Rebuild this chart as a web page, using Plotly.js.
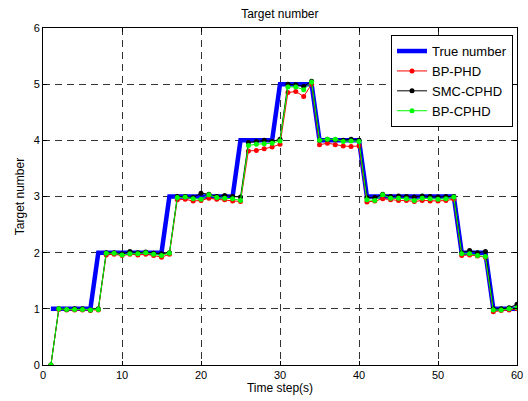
<!DOCTYPE html>
<html>
<head>
<meta charset="utf-8">
<script src="https://cdn.plot.ly/plotly-3.0.1.min.js"></script>
<style>html,body{margin:0;padding:0;background:#fff;}#chart{width:528px;height:401px;}</style>
</head>
<body>
<div id="chart"></div>
<script>
const timeSteps = Array.from({length: 60}, (_, i) => i + 1);
const trueNumber = [1,1,1,1,1,1, 2,2,2,2,2,2,2,2,2, 3,3,3,3,3,3,3,3,3, 4,4,4,4,4, 5,5,5,5,5, 4,4,4,4,4,4, 3,3,3,3,3,3,3,3,3,3,3,3, 2,2,2,2, 1,1,1,1];
const bpPhd = [0, 0.99,0.98,0.98,0.98,0.97,0.98, 1.96,1.97,1.95,1.97,1.96,1.97,1.95,1.92,1.97, 2.94,2.95,2.92,2.93,2.97,2.95,2.94,2.92,2.91, 3.81,3.82,3.85,3.88,3.93, 4.85,4.87,4.78,5.0, 3.92,3.95,3.92,3.9,3.89,3.9, 2.9,2.92,2.96,2.94,2.93,2.93,2.91,2.93,2.92,2.92,2.93,2.95, 1.95,1.96,1.94,1.92, 0.95,0.97,0.98,1.0];
const smcCphd = [0, 1.0,0.99,1.0,1.0,0.98,1.0, 2.0,2.0,1.98,2.02,2.0,2.01,1.99,1.98,2.0, 3.0,3.0,2.98,3.06,3.04,3.0,3.02,3.0,2.99, 3.96,3.98,4.0,3.98,4.02, 5.0,4.99,4.96,5.05, 4.0,4.02,4.01,4.0,4.02,4.0, 2.98,2.98,3.04,3.0,3.01,3.0,2.99,3.01,3.0,2.99,3.0,3.0, 2.0,2.04,2.0,2.02, 1.0,1.0,1.02,1.08];
const bpCphd = [0, 1.0,0.99,0.99,0.99,0.98,0.99, 1.99,1.99,1.96,1.98,1.98,2.0,1.97,1.95,1.99, 2.98,2.99,2.96,2.95,3.03,2.98,2.97,2.96,2.93, 3.91,3.93,3.94,3.95,3.99, 4.95,4.95,4.9,5.04, 4.0,4.02,4.02,3.98,3.99,3.98, 2.94,2.93,3.03,2.97,2.97,2.96,2.93,2.97,2.96,2.95,2.96,2.99, 1.98,1.98,1.95,1.93, 0.98,0.98,1.0,1.02];
const xTicks = [0,10,20,30,40,50,60];
const yTicks = [0,1,2,3,4,5,6];

const est = (name, y, color) => ({
  x: timeSteps, y: y, name: name, type: 'scatter', mode: 'lines+markers',
  line: {color: color, width: 1}, marker: {color: color, size: 5}
});

const data = [
  {x: timeSteps, y: trueNumber, name: 'True number', type: 'scatter', mode: 'lines',
   line: {color: '#0000ff', width: 4.5}},
  est('BP-PHD', bpPhd, '#ff0000'),
  est('SMC-CPHD', smcCphd, '#000000'),
  est('BP-CPHD', bpCphd, '#00ff00')
];

const axisCommon = {
  showline: true, mirror: 'ticks', linecolor: '#000', linewidth: 1,
  ticks: 'inside', ticklen: 4, tickcolor: '#000',
  showgrid: true, gridcolor: '#333', griddash: '7px,5px', gridwidth: 1,
  zeroline: false, tickfont: {family: 'Liberation Sans, Arial', size: 11, color: '#000'}
};

const layout = {
  width: 528, height: 401,
  margin: {l: 43, r: 11, t: 28, b: 36},
  paper_bgcolor: '#fff', plot_bgcolor: '#fff',
  font: {family: 'Liberation Sans, Arial', color: '#000', size: 11},
  title: {text: 'Target number', font: {size: 12, family: 'Liberation Sans, Arial', color: '#000'}, x: 0.53, xanchor: 'center', y: 0.975, yanchor: 'top'},
  xaxis: Object.assign({}, axisCommon, {range: [0, 60], tickvals: xTicks,
    title: {text: 'Time step(s)', font: {size: 12}, standoff: 2}}),
  yaxis: Object.assign({}, axisCommon, {range: [0, 6], tickvals: yTicks,
    title: {text: 'Target number', font: {size: 12}, standoff: 6}}),
  showlegend: true,
  legend: {x: 0.9916, y: 0.979, xanchor: 'right', yanchor: 'top', bgcolor: '#fff',
    bordercolor: '#000', borderwidth: 1, font: {size: 13, family: 'Liberation Sans, Arial'},
    tracegroupgap: 0, itemwidth: 30}
};

Plotly.newPlot('chart', data, layout, {displayModeBar: false, staticPlot: true});
</script>
</body>
</html>
